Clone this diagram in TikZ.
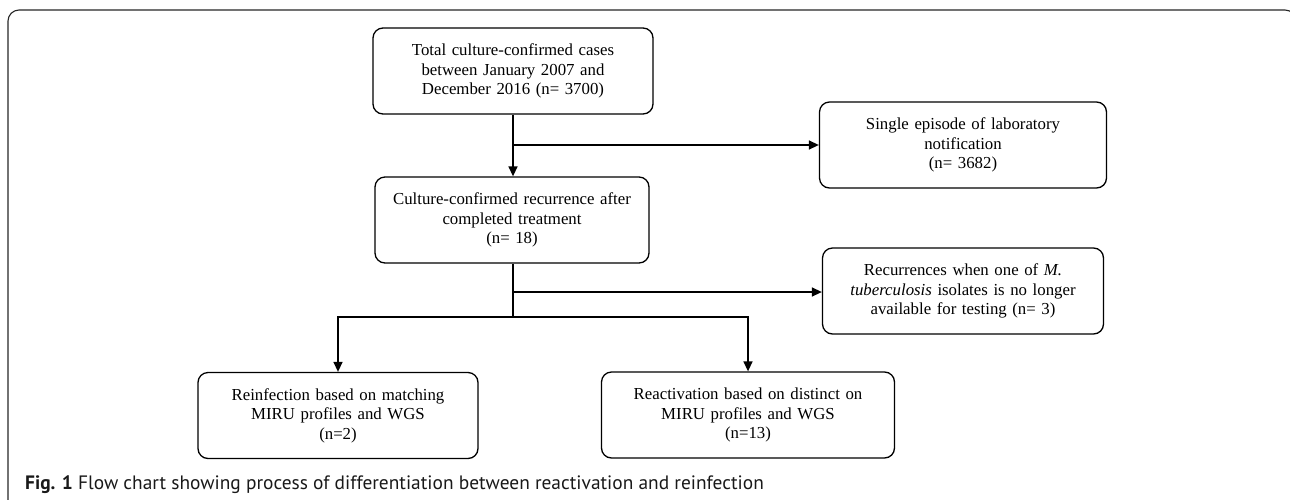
\documentclass[tikz,border=0pt]{standalone}
\usepackage{fontspec}
\setmainfont{Liberation Serif}
\newfontfamily\capfont{PT Sans}
\usetikzlibrary{arrows.meta}
\begin{document}
\begin{tikzpicture}[x=1pt,y=-1pt,
  flowbox/.style={draw, line width=1.3pt, rounded corners=10pt, inner sep=0pt,
    minimum height=86pt, align=center, font=\fontsize{16.8}{19.5}\selectfont},
  conn/.style={line width=1.4pt},
  arr/.style={conn, -{Triangle[length=10pt,width=9pt]}}]
\useasboundingbox (0,0) rectangle (1290,499);
\begin{scope}
\clip (0,0) rectangle (1290,499);
\draw[line width=1.1pt, color=black!85, rounded corners=11pt] (8,520) -- (8,10) -- (1296,10) -- (1296,520);
\end{scope}
\node[flowbox, text width=280pt] (total) at (513,71) {Total culture-confirmed cases\\between January 2007 and\\December 2016 (n= 3700)};
\node[flowbox, text width=274pt] (recur) at (512,220) {Culture-confirmed recurrence after\\completed treatment\\(n= 18)};
\node[flowbox, text width=287pt] (single) at (963,145) {Single episode of laboratory\\notification\\(n= 3682)};
\node[flowbox, text width=281pt] (lost) at (963,291) {Recurrences when one of \textit{M.}\\\textit{tuberculosis} isolates is no longer\\available for testing (n= 3)};
\node[flowbox, text width=280pt] (reinf) at (338,415.5) {Reinfection based on matching\\MIRU profiles and WGS\\(n=2)};
\node[flowbox, text width=293pt] (react) at (748,415) {Reactivation based on distinct on\\MIRU profiles and WGS\\(n=13)};
\coordinate (b1) at (513,145);
\coordinate (b2) at (513,292);
\coordinate (b3) at (513,317);
\draw[arr] (total.south -| b1) -- (recur.north -| b1);
\draw[arr] (b1) -- (single.west |- b1);
\draw[conn] (recur.south -| b1) -- (b3);
\draw[arr] (b2) -- (lost.west |- b2);
\draw[arr] (b3) -| (reinf.north);
\draw[arr] (b3) -| (react.north);
\node[anchor=base west, inner sep=0pt, font=\capfont\fontsize{19.4}{21}\selectfont, text=black!90] (cap) at (25,489) {\textbf{Fig. 1} Flow chart showing process of differentiation between reactivation and reinfection};
\end{tikzpicture}
\end{document}
